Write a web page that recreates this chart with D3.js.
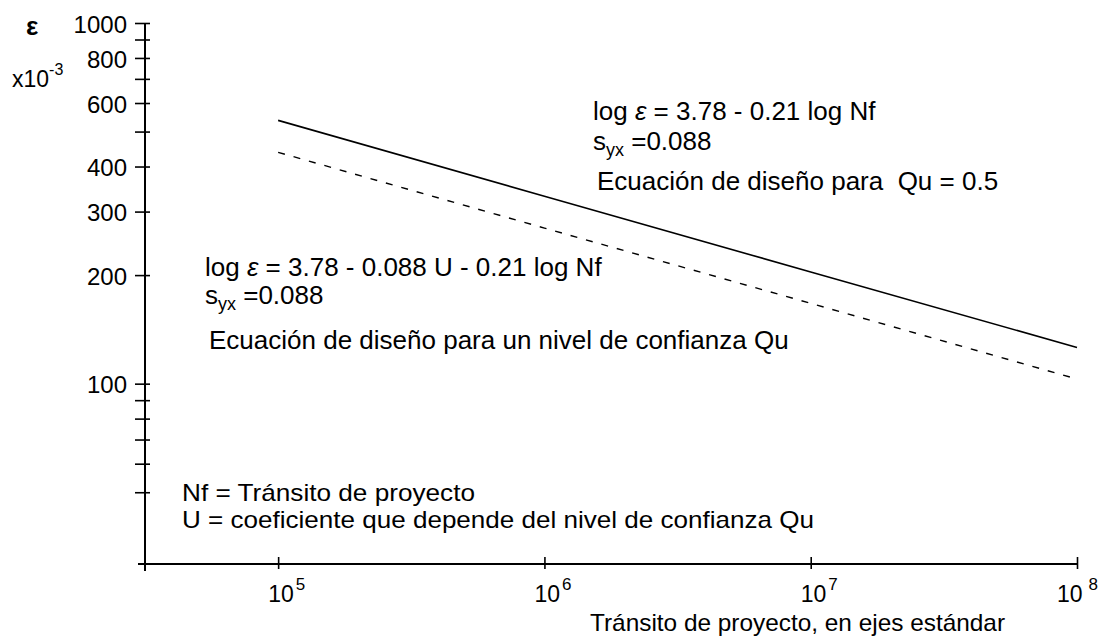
<!DOCTYPE html>
<html>
<head>
<meta charset="utf-8">
<script src="https://cdn.jsdelivr.net/npm/d3@7"></script>
<style>
  html, body { margin: 0; padding: 0; background: #fff; }
  svg { display: block; }
  text { font-family: "Liberation Sans", Arial, sans-serif; fill: #000; white-space: pre; }
</style>
</head>
<body>
<svg id="chart" width="1105" height="637"></svg>
<script>
// Traffic (standard axles) at which the design curves are evaluated
const nf = [1e5, 1e6, 1e7, 1e8];
// Strain x10^-3, design equation (Qu = 0.5): log e = 3.78 - 0.21 log Nf
const epsDesign = [537, 331, 204, 126];
// Strain x10^-3, confidence-level equation (U = 1): log e = 3.78 - 0.088 U - 0.21 log Nf
const epsConfidence = [438, 270, 167, 103];

// Axis ticks
const xTickExponents = [5, 6, 7, 8];
const yTickValues = [1000, 900, 800, 700, 600, 500, 400, 300, 200, 100, 90, 80, 70, 60, 50];
const yTickLabels = [1000, 800, 600, 400, 300, 200, 100];

const svg = d3.select("#chart");

const x = d3.scaleLog().domain([Math.pow(10, 4.5), 1e8]).range([145, 1077]);
const y = d3.scaleLog().domain([Math.pow(10, 1.5), 1000]).range([564, 23]);

const x0 = x.range()[0], y0 = y.range()[0];

// ---- axis lines ----
svg.append("line")
  .attr("x1", x0).attr("x2", x0)
  .attr("y1", y(1000)).attr("y2", y0 + 7)
  .attr("stroke", "#000").attr("stroke-width", 2);
svg.append("line")
  .attr("x1", x0 - 7).attr("x2", x.range()[1])
  .attr("y1", y0).attr("y2", y0)
  .attr("stroke", "#000").attr("stroke-width", 2);

// ---- y axis ticks (crossing the axis) ----
const yAxis = d3.axisLeft(y).tickValues(yTickValues).tickSize(9)
  .tickFormat(d => yTickLabels.includes(d) ? d : "");
const gy = svg.append("g").attr("transform", `translate(${x0},0)`).call(yAxis);
gy.select(".domain").remove();
gy.selectAll(".tick line").attr("x1", 5).attr("x2", -10).attr("stroke", "#000").attr("stroke-width", 1.6);
gy.selectAll(".tick text")
  .attr("x", -18).attr("dy", "0.38em")
  .style("font-size", "24px").style("font-family", "'Liberation Sans', Arial, sans-serif");

// ---- x axis ticks ----
const xAxis = d3.axisBottom(x).tickValues(xTickExponents.map(e => Math.pow(10, e))).tickSize(5).tickFormat("");
const gx = svg.append("g").attr("transform", `translate(0,${y0})`).call(xAxis);
gx.select(".domain").remove();
gx.selectAll(".tick line").attr("y1", -7).attr("y2", 5).attr("stroke", "#000").attr("stroke-width", 1.6);

// power-of-ten labels
xTickExponents.forEach((e, i) => {
  const px = x(Math.pow(10, e));
  const last = i === xTickExponents.length - 1;
  const t = svg.append("text")
    .attr("x", last ? px - 20 : px - 10)
    .attr("y", 602)
    .style("font-size", "23px");
  t.append("tspan").text("10");
  t.append("tspan").attr("dx", last ? 6 : 2).attr("dy", -12).style("font-size", "17px").text(e);
});

// axis titles
svg.append("text").attr("x", 590).attr("y", 631).style("font-size", "24px")
  .attr("textLength", 415).attr("lengthAdjust", "spacingAndGlyphs")
  .text("Tránsito de proyecto, en ejes estándar");

svg.append("text").attr("x", 26).attr("y", 35)
  .style("font-size", "26px").style("font-weight", "bold").text("ε");
const unit = svg.append("text").attr("x", 12).attr("y", 87).style("font-size", "23px");
unit.append("tspan").text("x10");
unit.append("tspan").attr("dy", -12).style("font-size", "16px").text("-3");

// ---- curves ----
const line = d3.line().x(d => x(d[0])).y(d => y(d[1]));

svg.append("path")
  .datum(nf.map((n, i) => [n, epsDesign[i]]))
  .attr("d", line)
  .attr("fill", "none").attr("stroke", "#000").attr("stroke-width", 1.6);

svg.append("path")
  .datum(nf.map((n, i) => [n, epsConfidence[i]]))
  .attr("d", line)
  .attr("fill", "none").attr("stroke", "#000").attr("stroke-width", 1.4)
  .attr("stroke-dasharray", "7,9");

// ---- annotations ----
function equation(xp, yp, coefText) {
  const t = svg.append("text").attr("x", xp).attr("y", yp).style("font-size", "26px");
  t.append("tspan").text("log ");
  t.append("tspan").style("font-style", "italic").text("ε");
  t.append("tspan").text(" = " + coefText);
}
function syx(xp, yp) {
  const t = svg.append("text").attr("x", xp).attr("y", yp).style("font-size", "26px");
  t.append("tspan").text("s");
  t.append("tspan").attr("dy", 6).style("font-size", "18px").text("yx");
  t.append("tspan").attr("dy", -6).text(" =0.088");
}

equation(593, 120, "3.78 - 0.21 log Nf");
syx(593, 150);
svg.append("text").attr("x", 597).attr("y", 190).style("font-size", "26px")
  .text("Ecuación de diseño para  Qu = 0.5");

equation(205, 276, "3.78 - 0.088 U - 0.21 log Nf");
syx(205, 304);
svg.append("text").attr("x", 209).attr("y", 349).style("font-size", "26px")
  .text("Ecuación de diseño para un nivel de confianza Qu");

svg.append("text").attr("x", 182).attr("y", 501).style("font-size", "24px")
  .attr("textLength", 293).attr("lengthAdjust", "spacingAndGlyphs")
  .text("Nf = Tránsito de proyecto");
svg.append("text").attr("x", 182).attr("y", 528).style("font-size", "24px")
  .attr("textLength", 632).attr("lengthAdjust", "spacingAndGlyphs")
  .text("U = coeficiente que depende del nivel de confianza Qu");
</script>
</body>
</html>
